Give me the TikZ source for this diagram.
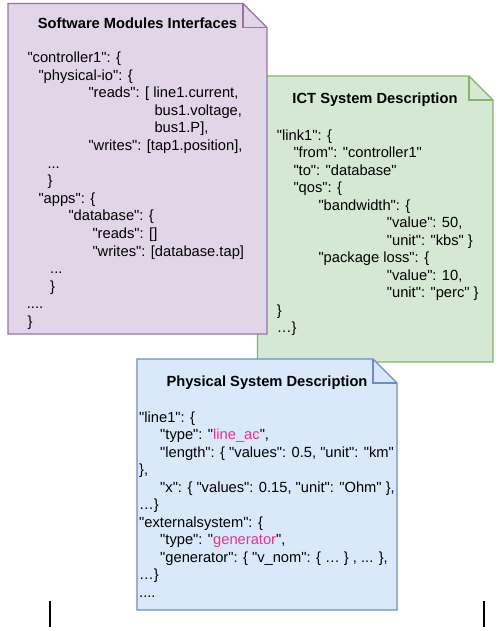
\documentclass[tikz,border=0pt]{standalone}
\usepackage{fontspec}
\setmainfont{Liberation Sans}[Ligatures=TeXOff]

\definecolor{swFill}{HTML}{E1D5E7}
\definecolor{swLine}{HTML}{9673A6}
\definecolor{ictFill}{HTML}{D5E8D4}
\definecolor{ictLine}{HTML}{82B366}
\definecolor{physFill}{HTML}{DAE8FC}
\definecolor{physLine}{HTML}{6C8EBF}
\definecolor{typeName}{RGB}{235,50,140}

\tikzset{
  sheet/.style={line width=1.1pt, line join=miter},
  code/.style={anchor=base west, inner sep=0pt, text=black,
    font=\fontsize{14.7}{17.5}\selectfont},
  sheettitle/.style={anchor=base, inner sep=0pt, text=black,
    font=\fontsize{14.7}{17.5}\selectfont\bfseries},
  cursorbar/.style={line width=2pt, black},
}

% note sheet with a folded top-right corner:
% #1 fill, #2 stroke, (#3,#4) top-left, (#5,#6) bottom-right
\newcommand{\notesheet}[6]{%
  \draw[sheet, fill=#1, draw=#2] (#3,#4) -- ({#5-24},#4) -- (#5,{#4+24})
    -- (#5,#6) -- (#3,#6) -- cycle;
  \draw[sheet, draw=#2] ({#5-24},#4) -- ({#5-24},{#4+24}) -- (#5,{#4+24});
}

\begin{document}
\begin{tikzpicture}[x=1pt, y=-1pt]
\useasboundingbox (0,0) rectangle (500,627);

% ---------- ICT system description ----------
\notesheet{ictFill}{ictLine}{257.5}{76}{493}{362}
\node[sheettitle] (ictT) at (375,103.5) {ICT System Description};
\node[code] (i1)  at (276.7,140)   {"link1": \{};
\node[code] (i2)  at (293.3,157.5) {"from": "controller1"};
\node[code] (i3)  at (293.3,175)   {"to": "database"};
\node[code] (i4)  at (293.3,192.5) {"qos": \{};
\node[code] (i5)  at (318.3,210)   {"bandwidth": \{};
\node[code] (i6)  at (386.7,227.5) {"value": 50,};
\node[code] (i7)  at (386.7,245)   {"unit": "kbs" \}};
\node[code] (i8)  at (318.3,262.5) {"package loss": \{};
\node[code] (i9)  at (386.7,280)   {"value": 10,};
\node[code] (i10) at (386.7,297.5) {"unit": "perc" \}};
\node[code] (i11) at (276.7,315)   {\}};
\node[code] (i12) at (276.7,332.5) {…\}};

% ---------- software module interfaces ----------
\notesheet{swFill}{swLine}{8}{3.5}{267}{334}
\node[sheettitle] (swT) at (137.5,28) {Software Modules Interfaces};
\node[code] (s1)  at (27.3,62.5)  {"controller1": \{};
\node[code] (s2)  at (38.3,80.1)  {"physical-io": \{};
\node[code] (s3)  at (88.3,97.7)  {"reads": [ line1.current,};
\node[code] (s4)  at (154.3,115.3) {bus1.voltage,};
\node[code] (s5)  at (154.3,132.9) {bus1.P],};
\node[code] (s6)  at (88.3,150.5) {"writes": [tap1.position],};
\node[code] (s7)  at (47.3,168.1) {...};
\node[code] (s8)  at (47.3,185.7) {\}};
\node[code] (s9)  at (38.3,203.3) {"apps": \{};
\node[code] (s10) at (68.3,220.9) {"database": \{};
\node[code] (s11) at (92.3,238.5) {"reads": []};
\node[code] (s12) at (92.3,256.1) {"writes": [database.tap]};
\node[code] (s13) at (50,273.7)   {...};
\node[code] (s14) at (50,291.3)   {\}};
\node[code] (s15) at (26.7,308.9) {....};
\node[code] (s16) at (27.3,326.5) {\}};

% ---------- physical system description ----------
\notesheet{physFill}{physLine}{137}{359}{397}{610}
\node[sheettitle] (phT) at (267,386) {Physical System Description};
\node[code] (p1)  at (139,422)   {"line1": \{};
\node[code] (p2)  at (160,439.5) {"type": "\textcolor{typeName}{line\_ac}",};
\node[code] (p3)  at (160,457)   {"length": \{ "values": 0.5, "unit": "km"};
\node[code] (p4)  at (139,474.5) {\},};
\node[code] (p5)  at (160,492)   {"x": \{ "values": 0.15, "unit": "Ohm" \},};
\node[code] (p6)  at (139,509.5) {…\}};
\node[code] (p7)  at (139,527)   {"externalsystem": \{};
\node[code] (p8)  at (160,544.5) {"type": "\textcolor{typeName}{generator}",};
\node[code] (p9)  at (160,562)   {"generator": \{ "v\_nom": \{ … \} , ... \},};
\node[code] (p10) at (139,579.5) {…\}};
\node[code] (p11) at (139,597)   {....};

% ---------- the two bars along the bottom edge ----------
\coordinate (barLtop) at (49.5,601);
\coordinate (barLbot) at (49.5,627);
\coordinate (barRtop) at (484,601);
\coordinate (barRbot) at (484,627);
\draw[cursorbar] (barLtop) -- (barLbot);
\draw[cursorbar] (barRtop) -- (barRbot);
\end{tikzpicture}
\end{document}
